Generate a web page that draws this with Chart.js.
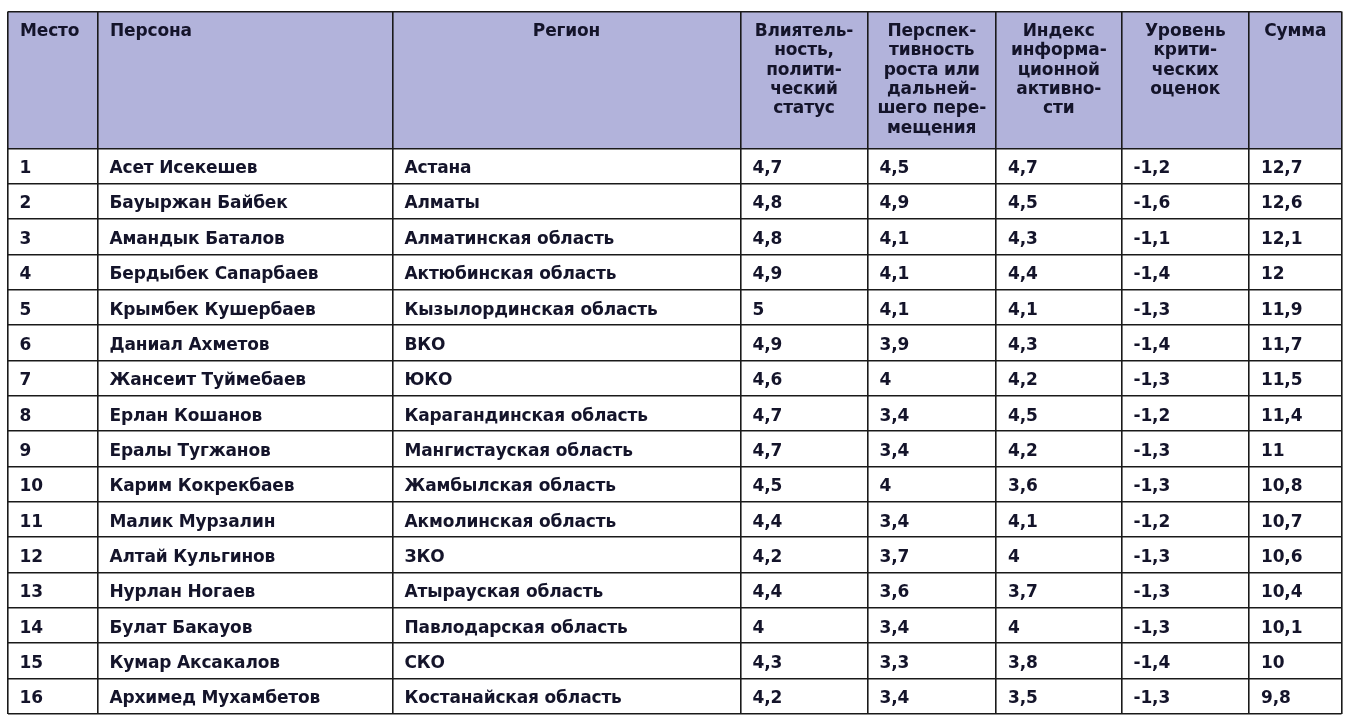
<!DOCTYPE html>
<html lang="ru">
<head>
<meta charset="utf-8">
<script src="https://cdn.jsdelivr.net/npm/chart.js@4.4.1/dist/chart.umd.min.js"></script>
<style>
  html, body { margin: 0; padding: 0; background: #ffffff; }
  #wrap { width: 1348px; height: 722px; }
  canvas { display: block; }
</style>
</head>
<body>
<div id="wrap"><canvas id="c" width="1348" height="722"></canvas></div>
<script>
// ---------- DATA ----------
const headers = [
  ["Место"],
  ["Персона"],
  ["Регион"],
  ["Влиятель-", "ность,", "полити-", "ческий", "статус"],
  ["Перспек-", "тивность", "роста или", "дальней-", "шего пере-", "мещения"],
  ["Индекс", "информа-", "ционной", "активно-", "сти"],
  ["Уровень", "крити-", "ческих", "оценок"],
  ["Сумма"]
];
const ranks = [1, 2, 3, 4, 5, 6, 7, 8, 9, 10, 11, 12, 13, 14, 15, 16];
const persons = [
  "Асет Исекешев", "Бауыржан Байбек", "Амандык Баталов", "Бердыбек Сапарбаев",
  "Крымбек Кушербаев", "Даниал Ахметов", "Жансеит Туймебаев", "Ерлан Кошанов",
  "Ералы Тугжанов", "Карим Кокрекбаев", "Малик Мурзалин", "Алтай Кульгинов",
  "Нурлан Ногаев", "Булат Бакауов", "Кумар Аксакалов", "Архимед Мухамбетов"
];
const regions = [
  "Астана", "Алматы", "Алматинская область", "Актюбинская область",
  "Кызылординская область", "ВКО", "ЮКО", "Карагандинская область",
  "Мангистауская область", "Жамбылская область", "Акмолинская область", "ЗКО",
  "Атырауская область", "Павлодарская область", "СКО", "Костанайская область"
];
const influence = [4.7, 4.8, 4.8, 4.9, 5, 4.9, 4.6, 4.7, 4.7, 4.5, 4.4, 4.2, 4.4, 4, 4.3, 4.2];
const prospects = [4.5, 4.9, 4.1, 4.1, 4.1, 3.9, 4, 3.4, 3.4, 4, 3.4, 3.7, 3.6, 3.4, 3.3, 3.4];
const infoIndex = [4.7, 4.5, 4.3, 4.4, 4.1, 4.3, 4.2, 4.5, 4.2, 3.6, 4.1, 4, 3.7, 4, 3.8, 3.5];
const criticism = [-1.2, -1.6, -1.1, -1.4, -1.3, -1.4, -1.3, -1.2, -1.3, -1.3, -1.2, -1.3, -1.3, -1.3, -1.4, -1.3];
const totals = [12.7, 12.6, 12.1, 12, 11.9, 11.7, 11.5, 11.4, 11, 10.8, 10.7, 10.6, 10.4, 10.1, 10, 9.8];

// ---------- LAYOUT (column edges in table units, header height in row units) ----------
const colEdges = [0, 90, 385, 733, 860, 988.5, 1114, 1241.5, 1334];
const headerRows = 3.87;
const headerAlign = ["left", "left", "center", "center", "center", "center", "center", "center"];

const fmt = v => String(v).replace('.', ',');
const columns = [ranks.map(String), persons, regions,
  influence.map(fmt), prospects.map(fmt), infoIndex.map(fmt), criticism.map(fmt), totals.map(fmt)];

const TEXT = '#14142a';
const LINE = '#1a1a1a';
const FONT = 'bold 17px "DejaVu Sans", sans-serif';

const datasets = columns.map((col, c) => ({
  label: headers[c].join(' '),
  data: col.map((t, i) => ({ x: colEdges[c], y: i, t })),
  pointRadius: 0,
  pointHoverRadius: 0,
  showLine: false
}));

const tablePlugin = {
  id: 'tablePlugin',
  beforeDraw(chart) {
    const { ctx, scales: { x, y } } = chart;
    ctx.save();
    ctx.fillStyle = '#b2b3db';
    const top = y.getPixelForValue(-headerRows), bot = y.getPixelForValue(0);
    ctx.fillRect(x.getPixelForValue(colEdges[0]), top, x.getPixelForValue(colEdges[colEdges.length - 1]) - x.getPixelForValue(colEdges[0]), bot - top);
    ctx.restore();
  },
  afterDatasetsDraw(chart) {
    const { ctx, scales: { x, y } } = chart;
    ctx.save();
    ctx.font = FONT;
    if ('letterSpacing' in ctx) ctx.letterSpacing = '-0.15px';
    ctx.fillStyle = TEXT;
    ctx.textBaseline = 'alphabetic';
    // header
    const top = y.getPixelForValue(-headerRows);
    headers.forEach((lines, c) => {
      const l = x.getPixelForValue(colEdges[c]), r = x.getPixelForValue(colEdges[c + 1]);
      let tx;
      if (headerAlign[c] === 'left') { ctx.textAlign = 'left'; tx = l + 12.5; }
      else { ctx.textAlign = 'center'; tx = (l + r) / 2; }
      lines.forEach((s, k) => ctx.fillText(s, tx, top + 24.5 + k * 19.3));
    });
    // body cells
    ctx.textAlign = 'left';
    chart.data.datasets.forEach((ds, c) => {
      const meta = chart.getDatasetMeta(c);
      meta.data.forEach((pt, i) => {
        ctx.fillText(ds.data[i].t, pt.x + 12, pt.y + 24.8);
      });
    });
    ctx.restore();
  }
};

const yTicks = [-headerRows].concat(Array.from({ length: 17 }, (_, i) => i));

new Chart(document.getElementById('c'), {
  type: 'scatter',
  data: { datasets },
  options: {
    responsive: false,
    animation: false,
    devicePixelRatio: 1,
    layout: { padding: { left: 7.5, top: 11.5, right: 6.5, bottom: 8 } },
    plugins: { legend: { display: false }, tooltip: { enabled: false }, title: { display: false } },
    events: [],
    scales: {
      x: {
        type: 'linear',
        min: colEdges[0], max: colEdges[colEdges.length - 1],
        afterBuildTicks: s => { s.ticks = colEdges.map(v => ({ value: v })); },
        afterFit: s => { s.height = 0; },
        ticks: { display: false },
        grid: { color: LINE, lineWidth: 1.6, drawTicks: false },
        border: { display: false }
      },
      y: {
        type: 'linear',
        reverse: true,
        min: -headerRows, max: 16,
        afterBuildTicks: s => { s.ticks = yTicks.map(v => ({ value: v })); },
        afterFit: s => { s.width = 0; },
        ticks: { display: false },
        grid: { color: LINE, lineWidth: 1.6, drawTicks: false },
        border: { display: false }
      }
    }
  },
  plugins: [tablePlugin]
});
</script>
</body>
</html>
